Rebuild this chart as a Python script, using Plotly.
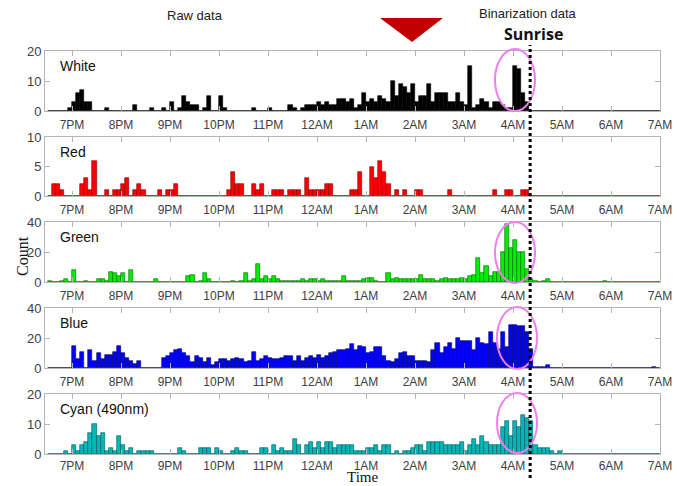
import plotly.graph_objects as go

# ---- data: counts per 5-minute bin, starting 6:30 PM ----
bin_start_hour = 18.5
bin_minutes = 5

white = [0,0,0,0,0,1,3,6,7,3,3,0,
         0,0,1,0,0,0,0,0,0,2,0,0,
         0,1,0,0,1,0,3,0,1,5,3,2,
         2,0,1,5,0,0,5,1,0,0,0,0,
         0,0,1,0,0,0,1,0,0,0,0,2,
         1,0,1,2,2,2,3,2,3,2,2,4,
         4,3,4,1,2,6,3,4,3,5,4,3,
         10,5,9,8,6,9,3,5,5,9,3,6,
         6,6,3,3,6,3,2,15,1,2,4,3,
         1,3,3,2,1,1,15,14,6,3,0,0,
         0,0,0,0,0,0,0,0,0,0,0,0,
         0,0,0,0,0,0,0,0,0,0,0,0,
         0,0,0,0,0,0]

red = [0,2,2,1,0,0,0,0,2,3,1,6,
       0,0,1,0,1,1,2,3,0,1,2,1,
       0,0,0,1,0,1,1,2,0,0,0,0,
       0,0,0,0,0,0,0,0,1,4,2,2,
       0,0,2,1,2,0,0,1,1,1,0,1,
       1,1,0,3,1,1,1,1,2,2,0,0,
       0,0,1,1,4,0,0,5,3,6,4,2,
       0,1,0,1,0,0,1,1,0,0,0,0,
       0,0,1,0,0,0,0,0,0,0,0,0,
       0,1,0,0,1,1,0,0,1,1,0,0,
       0,0,0,0,0,0,0,0,0,0,0,0,
       0,0,0,0,0,0,0,0,0,0,0,0,
       0,0,0,0,0,0]

green = [1,0,0,1,2,0,8,0,0,1,0,0,
         2,2,1,7,6,4,6,0,8,0,0,0,
         0,0,2,0,0,0,0,0,0,0,4,5,
         0,1,6,2,0,0,0,0,0,1,0,1,
         6,1,2,12,2,4,2,4,2,1,1,1,
         1,1,2,1,2,2,1,2,1,1,1,1,
         4,1,1,1,1,2,3,3,1,0,0,6,
         2,3,2,2,2,2,2,5,2,2,2,1,
         2,3,2,2,2,3,2,4,5,16,6,11,
         4,7,7,20,39,23,28,20,20,9,2,1,
         0,1,2,0,0,0,0,0,0,0,0,0,
         0,0,0,0,1,0,0,0,0,0,0,0,
         0,0,0,0,0,0]

blue = [0,0,0,0,0,0,15,6,11,0,12,5,
        10,6,9,9,11,15,10,7,5,3,5,0,
        0,0,0,0,7,8,10,12,13,10,8,4,
        8,7,4,7,2,4,6,6,5,6,7,6,
        4,5,11,5,6,8,7,6,6,7,8,8,
        5,8,5,7,8,7,9,7,8,10,11,12,
        12,13,16,12,15,14,10,11,14,14,8,5,
        4,6,10,11,8,8,5,5,5,4,12,17,
        10,14,17,13,20,18,18,18,12,20,17,16,
        24,17,13,24,14,29,29,28,28,24,13,1,
        1,1,2,0,0,0,0,0,0,0,0,0,
        0,0,0,0,0,0,0,0,0,0,0,0,
        0,0,0,0,1,0]

cyan = [0,0,0,0,1,0,3,1,3,4,7,10,
        6,7,1,2,1,6,3,1,2,0,1,1,
        1,1,0,0,0,0,0,0,2,1,0,0,
        0,2,2,2,0,2,1,0,0,1,2,1,
        1,0,0,0,2,2,0,3,1,2,1,1,
        5,3,0,3,4,2,4,2,4,4,2,3,
        3,3,3,1,1,1,2,2,3,1,3,3,
        0,1,0,1,1,2,3,3,1,4,4,4,
        4,3,3,3,3,4,1,3,5,3,6,4,
        3,3,3,9,11,6,11,9,13,12,11,3,
        2,2,2,1,0,1,0,0,0,0,0,0,
        0,0,0,0,0,0,0,0,0,0,0,0,
        0,0,0,0,0,0]

series_names = ["White", "Red", "Green", "Blue", "Cyan (490nm)"]
series_values = [white, red, green, blue, cyan]
series_colors = ["#000000", "#ff0000", "#00ee00", "#0000ff", "#00b8b8"]
edge_colors = ["#000000", "#7a0000", "#006600", "#000066", "#005555"]
y_ranges = [20, 10, 40, 40, 20]
y_ticks = [[0, 10, 20], [0, 5, 10], [0, 20, 40], [0, 20, 40], [0, 10, 20]]

tick_hours = list(range(19, 32))
tick_labels = ["7PM", "8PM", "9PM", "10PM", "11PM", "12AM", "1AM",
               "2AM", "3AM", "4AM", "5AM", "6AM", "7AM"]
sunrise_hour = 28.35
highlight_rows = [0, 2, 3, 4]

# ---- layout helpers (pixel -> paper) ----
W, H = 677, 486
L, R, T, B = 45, 660, 51, 454
def px(x):
    return (x - L) / (R - L)
def py(y):
    return (B - y) / (B - T)

panel_px = [(51, 111), (137, 196), (222, 282), (308, 368), (394, 454)]

fig = go.Figure()
x_range = [18.449, 31.0]

for k in range(5):
    vals = series_values[k]
    xs = [bin_start_hour + (i + 0.5) * bin_minutes / 60 for i in range(len(vals))]
    ax = "" if k == 0 else str(k + 1)
    fig.add_trace(go.Bar(
        x=xs, y=vals, width=bin_minutes / 60,
        marker=dict(color=series_colors[k], line=dict(color=edge_colors[k], width=0.6)),
        xaxis="x" + ax, yaxis="y" + ax, showlegend=False, hoverinfo="skip",
    ))
    top, bot = panel_px[k]
    fig.layout["xaxis" + ax] = dict(
        domain=[0, 1], range=x_range, anchor="y" + ax, automargin=False,
        tickvals=tick_hours, ticktext=tick_labels,
        ticks="inside", ticklen=5, tickcolor="#b5b5b5",
        showline=True, linecolor="#b5b5b5", mirror="ticks",
        showgrid=False, zeroline=False, ticklabelstandoff=(1 if k == 4 else 3),
        tickfont=dict(family="Liberation Sans", size=12, color="#404040"),
    )
    fig.layout["yaxis" + ax] = dict(
        domain=[py(bot), py(top)], range=[0, y_ranges[k]], anchor="x" + ax,
        automargin=False, tickvals=y_ticks[k],
        ticks="inside", ticklen=5, tickcolor="#b5b5b5",
        showline=True, linecolor="#b5b5b5", mirror="ticks",
        showgrid=False, zeroline=False,
        tickfont=dict(family="Liberation Sans", size=13, color="#404040"),
    )
    fig.add_annotation(
        text=series_names[k], xref="paper", yref="paper",
        x=px(58), y=py(top + 15), xanchor="left", yanchor="middle",
        showarrow=False, font=dict(family="Liberation Sans", size=14, color="#111111"),
    )

# highlight ellipses
ellipse_px = {0: (495, 49, 535, 111), 2: (495, 222, 535, 283),
              3: (497, 307, 537, 369), 4: (497, 393, 537, 453)}
for k in highlight_rows:
    x0, y0, x1, y1 = ellipse_px[k]
    fig.add_shape(type="circle", xref="paper", yref="paper",
                  x0=px(x0), x1=px(x1), y0=py(y1), y1=py(y0),
                  line=dict(color="#f07ef0", width=2))

# sunrise dotted line
fig.add_shape(type="line", xref="x", yref="paper",
              x0=sunrise_hour, x1=sunrise_hour, y0=py(478), y1=py(45),
              line=dict(color="black", width=3, dash="dot"))

# red triangle
fig.add_shape(type="path", xref="paper", yref="paper",
              path=f"M {px(380)},{py(18)} L {px(443)},{py(18)} L {px(412)},{py(42)} Z",
              fillcolor="#c00000", line=dict(color="#c00000", width=0))

def label(text, x, y, size, family="Liberation Sans", angle=0, color="#222222",
          yanchor="middle"):
    fig.add_annotation(text=text, xref="paper", yref="paper", x=px(x), y=py(y),
                       xanchor="center", yanchor=yanchor, textangle=angle,
                       borderpad=0, showarrow=False,
                       font=dict(family=family, size=size, color=color))

label("Raw data", 195, 16, 13)
label("Binarization data", 528, 13, 13)
label("<b>Sunrise</b>", 533, 34, 16, family="Open Sans", color="#111111")
label("Count", 22, 256, 16, family="Liberation Serif", angle=-90, color="#111111")
label("Time", 362, 486, 15, family="Liberation Serif", color="#111111", yanchor="bottom")

fig.update_layout(
    width=W, height=H, margin=dict(l=L, r=W - R, t=T, b=H - B, autoexpand=False),
    paper_bgcolor="white", plot_bgcolor="white", bargap=0,
)

fig.write_html("out.html", config={"displayModeBar": False},
               post_script="document.body.style.margin='0';")
